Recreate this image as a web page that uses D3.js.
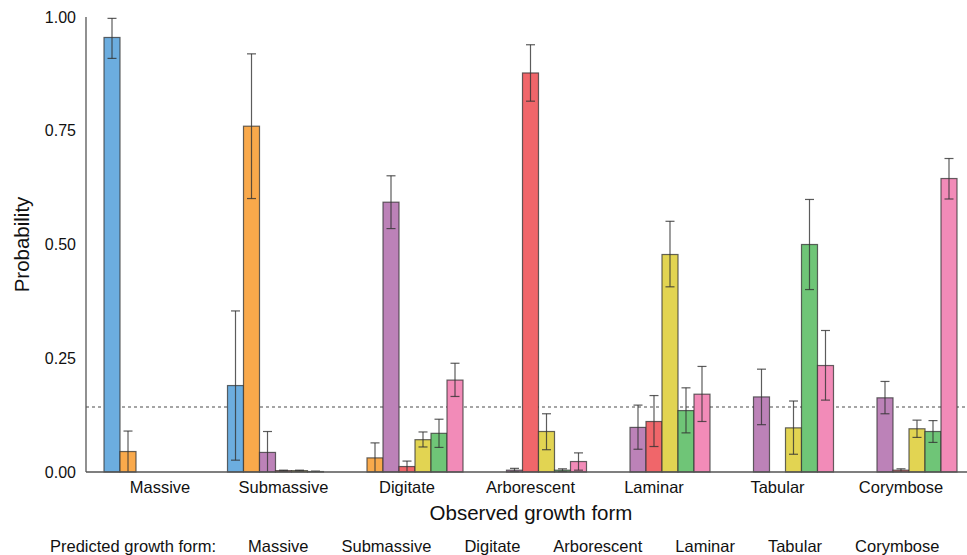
<!DOCTYPE html>
<html lang="en">
<head>
<meta charset="UTF-8">
<title>Growth form probabilities</title>
<script src="https://d3js.org/d3.v7.min.js"></script>
<style>
  body { margin: 0; background: #fff; }
  svg { font-family: "Liberation Sans", Arial, sans-serif; }
</style>
</head>
<body>
<div id="chart"></div>
<script>
  // observed growth forms (x groups) and predicted forms (bars in each group)
  const observed = ["Massive", "Submassive", "Digitate", "Arborescent", "Laminar", "Tabular", "Corymbose"];
  const predicted = ["Massive", "Submassive", "Digitate", "Arborescent", "Laminar", "Tabular", "Corymbose"];
  const colors = ["#6caddf", "#f9a94b", "#bc82b8", "#f0666a", "#e2d452", "#6fc577", "#f28bb8"];
  const yTicks = [0, 0.25, 0.5, 0.75, 1.0];
  const chance = 1 / 7;

  // one row per observed form, one column per predicted form
  const probMean = [
    [0.955, 0.045, 0, 0, 0, 0, 0],
    [0.190, 0.760, 0.043, 0.003, 0.003, 0.001, 0],
    [0, 0.031, 0.593, 0.012, 0.071, 0.085, 0.202],
    [0, 0, 0.004, 0.877, 0.089, 0.004, 0.023],
    [0, 0, 0.098, 0.111, 0.478, 0.135, 0.171],
    [0, 0, 0.165, 0, 0.097, 0.500, 0.234],
    [0, 0, 0.163, 0.004, 0.095, 0.089, 0.645]
  ];
  const probLow = [
    [0.909, 0, 0, 0, 0, 0, 0],
    [0.026, 0.601, 0, 0.002, 0.002, 0, 0],
    [0, 0, 0.535, 0, 0.055, 0.054, 0.166],
    [0, 0, 0.001, 0.815, 0.049, 0.001, 0.004],
    [0, 0, 0.050, 0.056, 0.407, 0.086, 0.111],
    [0, 0, 0.104, 0, 0.039, 0.401, 0.158],
    [0, 0, 0.128, 0, 0.076, 0.065, 0.600]
  ];
  const probHigh = [
    [0.997, 0.090, 0, 0, 0, 0, 0],
    [0.354, 0.919, 0.089, 0.004, 0.004, 0.002, 0],
    [0, 0.064, 0.651, 0.024, 0.088, 0.116, 0.239],
    [0, 0, 0.008, 0.939, 0.128, 0.007, 0.042],
    [0, 0, 0.147, 0.168, 0.551, 0.185, 0.232],
    [0, 0, 0.226, 0, 0.156, 0.599, 0.311],
    [0, 0, 0.199, 0.007, 0.114, 0.113, 0.689]
  ];

  const width = 967, height = 555;
  const x0 = 98.25, x1 = 962.75;
  const yTop = 17, yBottom = 472;
  const font = "'Liberation Sans', Arial, sans-serif";

  const svg = d3.select("#chart").append("svg")
    .attr("width", width)
    .attr("height", height);

  const x = d3.scaleBand()
    .domain(observed)
    .range([x0, x1])
    .paddingInner(0.0931)
    .paddingOuter(0.0466);

  const xInner = d3.scaleBand()
    .domain(predicted)
    .range([0, x.bandwidth()]);

  const y = d3.scaleLinear()
    .domain([0, 1])
    .range([yBottom, yTop]);

  // flatten into bar records
  const bars = [];
  observed.forEach((obs, i) => {
    predicted.forEach((pred, k) => {
      bars.push({ obs, pred, k, mean: probMean[i][k], lo: probLow[i][k], hi: probHigh[i][k] });
    });
  });
  const shown = bars.filter(d => d.mean > 0);

  // chance line
  svg.append("line")
    .attr("x1", 86).attr("x2", width)
    .attr("y1", y(chance)).attr("y2", y(chance))
    .attr("stroke", "#888")
    .attr("stroke-width", 1.3)
    .attr("stroke-dasharray", "3,3");

  // bars
  svg.append("g").selectAll("rect")
    .data(shown)
    .join("rect")
    .attr("x", d => x(d.obs) + xInner(d.pred))
    .attr("y", d => y(d.mean))
    .attr("width", xInner.bandwidth())
    .attr("height", d => y(0) - y(d.mean))
    .attr("fill", d => colors[d.k])
    .attr("stroke", "#333")
    .attr("stroke-opacity", 0.75)
    .attr("stroke-width", 1.2);

  // error bars
  const eb = svg.append("g")
    .attr("stroke", "#333")
    .attr("stroke-opacity", 0.8)
    .attr("stroke-width", 1.2);
  const cx = d => x(d.obs) + xInner(d.pred) + xInner.bandwidth() / 2;
  eb.selectAll(".stem").data(shown).join("line")
    .attr("x1", cx).attr("x2", cx)
    .attr("y1", d => y(d.hi)).attr("y2", d => y(d.lo));
  eb.selectAll(".capt").data(shown).join("line")
    .attr("x1", d => cx(d) - 4.5).attr("x2", d => cx(d) + 4.5)
    .attr("y1", d => y(d.hi)).attr("y2", d => y(d.hi));
  eb.selectAll(".capb").data(shown.filter(d => d.lo > 0)).join("line")
    .attr("x1", d => cx(d) - 4.5).attr("x2", d => cx(d) + 4.5)
    .attr("y1", d => y(d.lo)).attr("y2", d => y(d.lo));

  // axes lines
  svg.append("line")
    .attr("x1", 86).attr("x2", 86)
    .attr("y1", yTop).attr("y2", yBottom)
    .attr("stroke", "#555").attr("stroke-width", 1.3);
  svg.append("line")
    .attr("x1", 86).attr("x2", width)
    .attr("y1", yBottom).attr("y2", yBottom)
    .attr("stroke", "#555").attr("stroke-width", 1.3);

  // y tick labels
  const yAxis = svg.append("g")
    .attr("transform", "translate(86,0)")
    .call(d3.axisLeft(y).tickValues(yTicks).tickFormat(d3.format(".2f")).tickSize(0).tickPadding(10));
  yAxis.select(".domain").remove();
  yAxis.selectAll("text")
    .attr("font-family", font)
    .attr("font-size", 16)
    .attr("fill", "#111");

  // x tick labels
  const xAxis = svg.append("g")
    .attr("transform", `translate(0,${yBottom})`)
    .call(d3.axisBottom(x).tickSize(0).tickPadding(9));
  xAxis.select(".domain").remove();
  xAxis.selectAll("text")
    .attr("font-family", font)
    .attr("font-size", 16.5)
    .attr("fill", "#111");

  // axis titles
  svg.append("text")
    .attr("transform", `translate(29,${(yTop + yBottom) / 2}) rotate(-90)`)
    .attr("text-anchor", "middle")
    .attr("font-size", 20.5)
    .attr("fill", "#111")
    .text("Probability");

  svg.append("text")
    .attr("x", 531)
    .attr("y", 520)
    .attr("text-anchor", "middle")
    .attr("font-size", 20.5)
    .attr("fill", "#111")
    .text("Observed growth form");

  // legend row
  const legend = svg.append("g").attr("font-size", 16.5).attr("fill", "#111");
  legend.append("text").attr("x", 50).attr("y", 552).text("Predicted growth form:");
  let lx = 248;
  predicted.forEach(p => {
    const t = legend.append("text").attr("x", lx).attr("y", 552).text(p);
    lx += t.node().getComputedTextLength() + 33;
  });
</script>
</body>
</html>
